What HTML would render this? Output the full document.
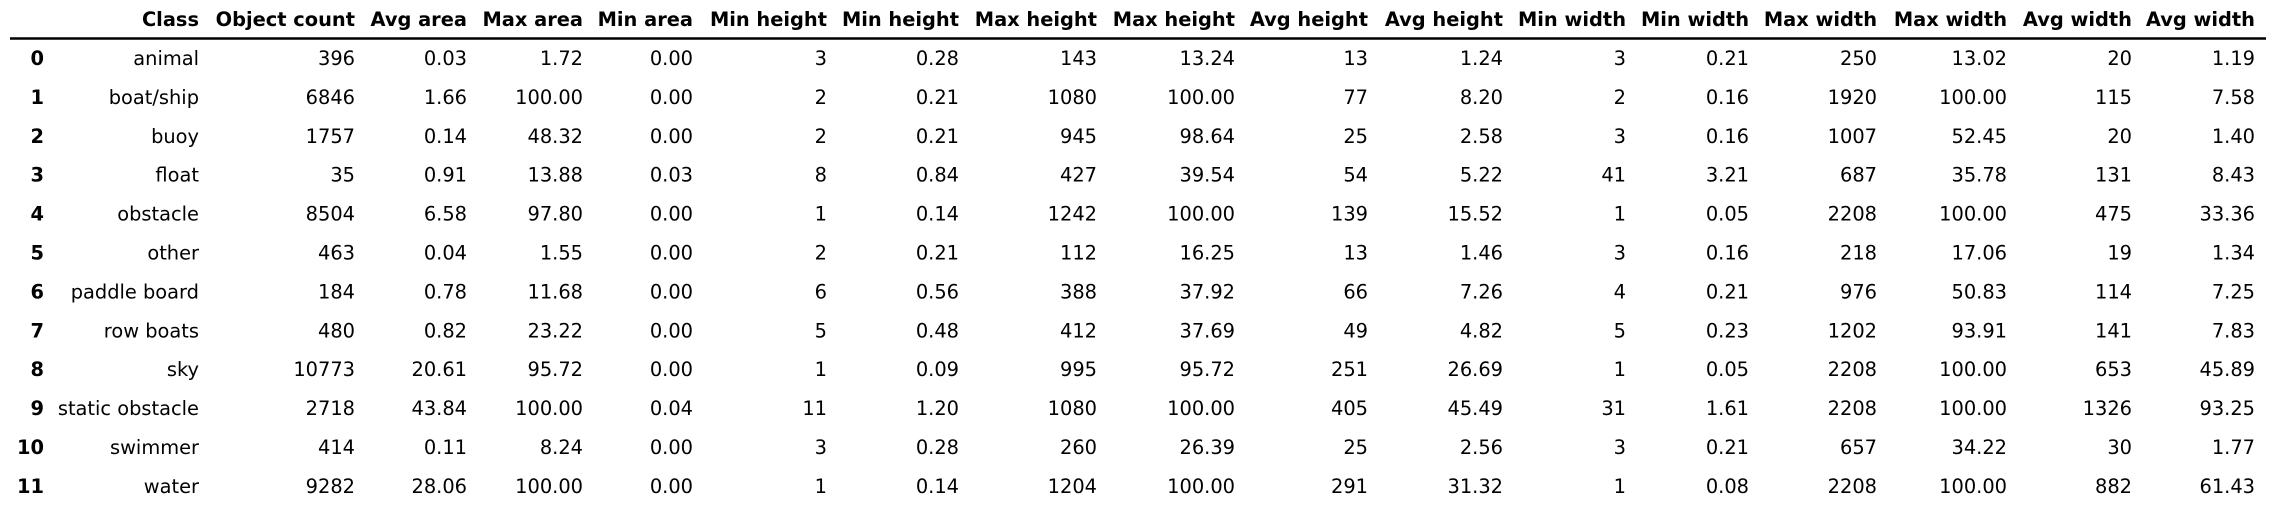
<!DOCTYPE html>
<html><head><meta charset="utf-8"><style>
html,body{margin:0;padding:0;background:#fff;}
svg{display:block;}
text{font-family:"DejaVu Sans","Liberation Sans",sans-serif;font-size:19.4px;fill:#000;}
.h{font-weight:bold;}
</style></head><body>
<svg id="tbl" width="2272" height="505" xmlns="http://www.w3.org/2000/svg">
<line x1="10" y1="38.5" x2="2266" y2="38.5" stroke="#000" stroke-width="2.5"/>
</svg>
<script>
const headers = ["Class","Object count","Avg area","Max area","Min area","Min height","Min height","Max height","Max height","Avg height","Avg height","Min width","Min width","Max width","Max width","Avg width","Avg width"];
const classes = ["animal","boat/ship","buoy","float","obstacle","other","paddle board","row boats","sky","static obstacle","swimmer","water"];
const objectCount = ["396","6846","1757","35","8504","463","184","480","10773","2718","414","9282"];
const avgArea = ["0.03","1.66","0.14","0.91","6.58","0.04","0.78","0.82","20.61","43.84","0.11","28.06"];
const maxArea = ["1.72","100.00","48.32","13.88","97.80","1.55","11.68","23.22","95.72","100.00","8.24","100.00"];
const minArea = ["0.00","0.00","0.00","0.03","0.00","0.00","0.00","0.00","0.00","0.04","0.00","0.00"];
const minHeightPx = ["3","2","2","8","1","2","6","5","1","11","3","1"];
const minHeightPct = ["0.28","0.21","0.21","0.84","0.14","0.21","0.56","0.48","0.09","1.20","0.28","0.14"];
const maxHeightPx = ["143","1080","945","427","1242","112","388","412","995","1080","260","1204"];
const maxHeightPct = ["13.24","100.00","98.64","39.54","100.00","16.25","37.92","37.69","95.72","100.00","26.39","100.00"];
const avgHeightPx = ["13","77","25","54","139","13","66","49","251","405","25","291"];
const avgHeightPct = ["1.24","8.20","2.58","5.22","15.52","1.46","7.26","4.82","26.69","45.49","2.56","31.32"];
const minWidthPx = ["3","2","3","41","1","3","4","5","1","31","3","1"];
const minWidthPct = ["0.21","0.16","0.16","3.21","0.05","0.16","0.21","0.23","0.05","1.61","0.21","0.08"];
const maxWidthPx = ["250","1920","1007","687","2208","218","976","1202","2208","2208","657","2208"];
const maxWidthPct = ["13.02","100.00","52.45","35.78","100.00","17.06","50.83","93.91","100.00","100.00","34.22","100.00"];
const avgWidthPx = ["20","115","20","131","475","19","114","141","653","1326","30","882"];
const avgWidthPct = ["1.19","7.58","1.40","8.43","33.36","1.34","7.25","7.83","45.89","93.25","1.77","61.43"];

const columns = [classes,objectCount,avgArea,maxArea,minArea,minHeightPx,minHeightPct,maxHeightPx,maxHeightPct,avgHeightPx,avgHeightPct,minWidthPx,minWidthPct,maxWidthPx,maxWidthPct,avgWidthPx,avgWidthPct];
const colRight = [199,355,467,583,693,827,959,1097,1235,1368,1503,1626,1749,1877,2007,2132,2255];
const svg = document.getElementById('tbl');
const NS = "http://www.w3.org/2000/svg";
function rowY(i){ return 58 + i*38.9; }
function addText(x,y,str,cls){
  const t = document.createElementNS(NS,'text');
  t.setAttribute('x',x); t.setAttribute('y',y+7);
  t.setAttribute('text-anchor','end');
  if(cls) t.setAttribute('class',cls);
  t.textContent = str;
  svg.appendChild(t);
  return t;
}
headers.forEach((h,c)=>{
  const t = addText(colRight[c],19,h,'h');
  
  
});
classes.forEach((_,r)=>{
  const idx = addText(44,rowY(r),String(r),'h');
  
  
  columns.forEach((col,c)=>{
    const t = addText(colRight[c],rowY(r),col[r]);
    
    
  });
});
</script>
</body></html>
